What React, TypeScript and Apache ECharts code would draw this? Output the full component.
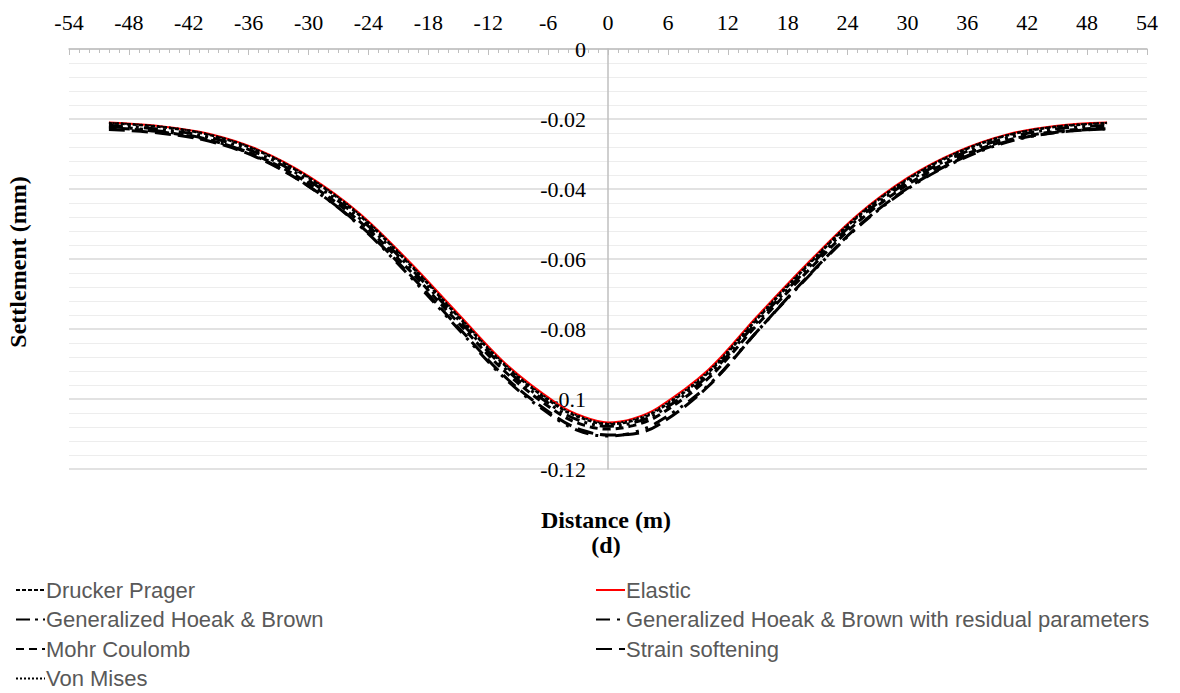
import React, { useEffect, useRef } from "react";
import * as echarts from "echarts";

// Distance from tunnel centreline (m)
const distance = [-50, -45, -40, -35, -30, -25, -20, -15, -10, -5, -2.5, 0, 2.5, 5, 10, 15, 20, 25, 30, 35, 40, 45, 50];

// Surface settlement (mm) per constitutive model
const druckerPrager = [-0.0212, -0.0222, -0.0245, -0.0292, -0.0368, -0.0473, -0.0612, -0.0765, -0.0913, -0.1022, -0.1056, -0.1072, -0.1062, -0.1032, -0.0926, -0.0770, -0.0619, -0.0480, -0.0373, -0.0297, -0.0247, -0.0222, -0.0212];
const elastic = [-0.0210, -0.0220, -0.0242, -0.0288, -0.0363, -0.0467, -0.0605, -0.0757, -0.0906, -0.1015, -0.1050, -0.1067, -0.1056, -0.1025, -0.0918, -0.0762, -0.0612, -0.0474, -0.0368, -0.0293, -0.0244, -0.0219, -0.0210];
const hoekBrown = [-0.0218, -0.0229, -0.0252, -0.0299, -0.0376, -0.0481, -0.0620, -0.0773, -0.0921, -0.1031, -0.1065, -0.1078, -0.1068, -0.1040, -0.0934, -0.0778, -0.0627, -0.0487, -0.0380, -0.0304, -0.0254, -0.0228, -0.0218];
const hoekBrownResidual = [-0.0222, -0.0234, -0.0259, -0.0310, -0.0392, -0.0502, -0.0645, -0.0800, -0.0950, -0.1060, -0.1095, -0.1106, -0.1096, -0.1066, -0.0962, -0.0805, -0.0652, -0.0510, -0.0400, -0.0320, -0.0266, -0.0238, -0.0228];
const mohrCoulomb = [-0.0225, -0.0236, -0.0260, -0.0307, -0.0384, -0.0490, -0.0629, -0.0782, -0.0930, -0.1040, -0.1074, -0.1086, -0.1076, -0.1048, -0.0942, -0.0786, -0.0635, -0.0495, -0.0388, -0.0311, -0.0261, -0.0235, -0.0225];
const strainSoftening = [-0.0230, -0.0240, -0.0263, -0.0312, -0.0392, -0.0500, -0.0640, -0.0795, -0.0945, -0.1055, -0.1090, -0.1103, -0.1100, -0.1075, -0.0965, -0.0805, -0.0650, -0.0508, -0.0398, -0.0318, -0.0264, -0.0238, -0.0228];
const vonMises = [-0.0211, -0.0221, -0.0244, -0.0290, -0.0366, -0.0470, -0.0609, -0.0762, -0.0910, -0.1019, -0.1053, -0.1070, -0.1059, -0.1029, -0.0922, -0.0766, -0.0616, -0.0477, -0.0371, -0.0295, -0.0246, -0.0221, -0.0211];

const names = {
  dp: "Drucker Prager",
  el: "Elastic",
  ghb: "Generalized Hoeak & Brown",
  ghbr: "Generalized Hoeak & Brown with residual parameters",
  mc: "Mohr Coulomb",
  ss: "Strain softening",
  vm: "Von Mises",
};

// legend layout: [name, column, row]
const legendSlots: [string, number, number][] = [
  [names.dp, 0, 0],
  [names.el, 1, 0],
  [names.ghb, 0, 1],
  [names.ghbr, 1, 1],
  [names.mc, 0, 2],
  [names.ss, 1, 2],
  [names.vm, 0, 3],
];

const SERIF = "'Liberation Serif', 'Times New Roman', serif";
const SANS = "'Liberation Sans', Arial, sans-serif";

const pairs = (ys: number[]) => distance.map((x, i) => [x, ys[i]]);

function lineSeries(name: string, ys: number[], color: string, width: number, type: any, z: number) {
  return {
    name,
    type: "line",
    data: pairs(ys),
    smooth: 0.35,
    symbol: "none",
    showSymbol: false,
    z,
    lineStyle: { color, width, type, cap: "butt" },
    itemStyle: { color },
  };
}

export default function App() {
  const ref = useRef<HTMLDivElement>(null);

  useEffect(() => {
    if (!ref.current) return;
    const chart = echarts.init(ref.current, undefined, { renderer: "svg" });
    const legendText = { fontFamily: SANS, fontSize: 22, color: "#595959" };
    const colX = [15, 595];
    const rowTop = [579, 608.5, 638, 667.5];
    chart.setOption({
      animation: false,
      backgroundColor: "#ffffff",
      grid: { left: 69, right: 33, top: 49, height: 420, containLabel: false },
      xAxis: {
        type: "value",
        position: "top",
        min: -54,
        max: 54,
        interval: 6,
        axisLine: { onZero: false, lineStyle: { color: "#bfbfbf", width: 1.5 } },
        axisTick: { show: true, inside: true, length: 6, lineStyle: { color: "#bfbfbf" } },
        minorTick: { show: true, splitNumber: 6, length: 4, lineStyle: { color: "#bfbfbf" } },
        splitLine: { show: false },
        axisLabel: { fontFamily: SERIF, fontSize: 22, color: "#000", margin: 16 },
      },
      yAxis: {
        type: "value",
        position: "left",
        offset: -539,
        min: -0.12,
        max: 0,
        interval: 0.02,
        axisLine: { onZero: false, lineStyle: { color: "#bfbfbf", width: 1.5 } },
        axisTick: { show: false },
        splitLine: { show: true, lineStyle: { color: "#d9d9d9", width: 1.5 } },
        minorTick: { show: false, splitNumber: 5 },
        minorSplitLine: { show: true, lineStyle: { color: "#ededed", width: 1 } },
        axisLabel: {
          fontFamily: SERIF,
          fontSize: 22,
          color: "#000",
          margin: 22,
          formatter: (v: number) => String(+v.toFixed(2)),
        },
      },
      legend: legendSlots.map(([name, col, row]) => ({
        left: colX[col],
        top: rowTop[row],
        orient: "horizontal",
        itemWidth: 29,
        itemHeight: 14,
        itemGap: 0,
        padding: 0,
        itemStyle: { opacity: 0 },
        textStyle: { ...legendText, padding: [0, 0, 0, -4] },
        data: [name],
      })),
      graphic: [
        {
          type: "text",
          x: 606,
          y: 520,
          style: {
            text: "Distance (m)",
            font: `bold 24px ${SERIF}`,
            fill: "#000",
            align: "center",
            verticalAlign: "middle",
          },
        },
        {
          type: "text",
          x: 606,
          y: 545,
          style: {
            text: "(d)",
            font: `bold 24px ${SERIF}`,
            fill: "#000",
            align: "center",
            verticalAlign: "middle",
          },
        },
        {
          type: "text",
          x: 18,
          y: 262,
          rotation: Math.PI / 2,
          style: {
            text: "Settlement (mm)",
            font: `bold 24px ${SERIF}`,
            fill: "#000",
            align: "center",
            verticalAlign: "middle",
          },
        },
      ],
      series: [
        lineSeries(names.el, elastic, "#ff0000", 2, "solid", 1),
        lineSeries(names.dp, druckerPrager, "#000000", 2.5, [4, 2], 2),
        lineSeries(names.ghb, hoekBrown, "#000000", 3, [14, 5, 3, 5, 3, 5], 2),
        lineSeries(names.ghbr, hoekBrownResidual, "#000000", 3, [14, 7, 3, 7, 3, 7], 2),
        lineSeries(names.mc, mohrCoulomb, "#000000", 3, [8, 5], 2),
        lineSeries(names.ss, strainSoftening, "#000000", 3, [16, 7], 2),
        lineSeries(names.vm, vonMises, "#000000", 2, [2, 2], 2),
      ],
    });
    return () => chart.dispose();
  }, []);

  return (
    <div
      ref={ref}
      style={{ position: "fixed", left: 0, top: 0, width: 1180, height: 693, background: "#fff" }}
    />
  );
}
